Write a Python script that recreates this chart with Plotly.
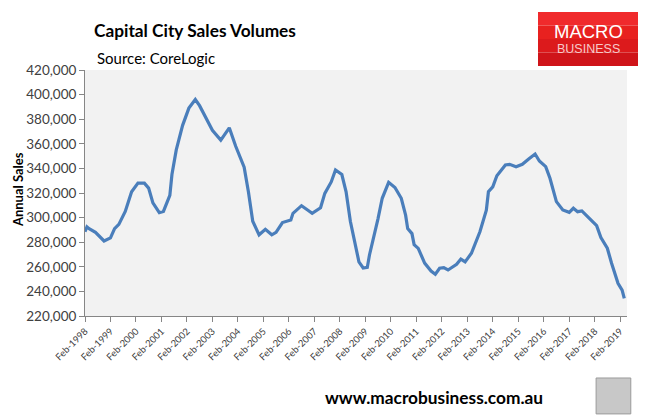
import plotly.graph_objects as go

# Capital city annual sales volumes (CoreLogic)
dates = [
    "1998-02", "1998-03", "1998-04", "1998-07", "1998-11", "1999-02", "1999-04",
    "1999-06", "1999-09", "1999-12", "2000-03", "2000-06", "2000-08", "2000-10",
    "2001-01", "2001-03", "2001-06", "2001-07", "2001-09", "2001-12", "2002-03",
    "2002-06", "2002-08", "2002-11", "2003-02", "2003-06", "2003-08", "2003-10",
    "2004-01", "2004-05", "2004-07", "2004-09", "2004-12", "2005-03", "2005-06",
    "2005-08", "2005-11", "2006-03", "2006-04", "2006-08", "2006-11", "2007-01",
    "2007-05", "2007-07", "2007-10", "2007-12", "2008-03", "2008-05", "2008-07",
    "2008-09", "2008-11", "2009-01", "2009-03", "2009-04", "2009-06", "2009-08",
    "2009-10", "2010-01", "2010-04", "2010-07", "2010-09", "2010-10", "2010-12",
    "2011-01", "2011-03", "2011-06", "2011-09", "2011-11", "2012-01", "2012-03",
    "2012-05", "2012-09", "2012-11", "2013-01", "2013-04", "2013-06", "2013-08",
    "2013-11", "2013-12", "2014-02", "2014-04", "2014-08", "2014-10", "2015-01",
    "2015-04", "2015-07", "2015-10", "2015-12", "2016-03", "2016-05", "2016-08",
    "2016-11", "2017-02", "2017-04", "2017-06", "2017-08", "2017-12", "2018-03",
    "2018-05", "2018-08", "2018-10", "2019-01", "2019-03", "2019-04",
]
sales = [
    288500, 292500, 291000, 288000, 281000, 283500, 291000,
    294500, 305000, 321000, 328000, 328000, 324000, 312000,
    304000, 305000, 318000, 335000, 355000, 375000, 389000,
    396000, 391000, 381000, 371000, 363000, 368000, 373000,
    358000, 341000, 321000, 297000, 286000, 290500, 286000,
    288000, 296000, 298000, 303500, 309700, 306000, 303500,
    308000, 319700, 329000, 338700, 335000, 321000, 297000,
    280000, 264000, 259000, 259500, 269600, 283000, 299000,
    315700, 328700, 324500, 315700, 302000, 291000, 287000,
    278000, 275000, 263000, 256600, 254000, 258800, 259300,
    257400, 262000, 266300, 264000, 271000, 280400, 288500,
    306000, 321000, 325000, 334000, 342800, 343300, 341400,
    343300, 347600, 351700, 346000, 341400, 332000, 313000,
    306200, 304300, 307600, 304800, 305400, 298000, 293400,
    283700, 275100, 262900, 246600, 241100, 234400,
]

FONT = "Lato"
TXT = "#404040"

fig = go.Figure()
fig.add_trace(go.Scatter(
    x=dates, y=sales, mode="lines",
    line=dict(color="#4a7ebb", width=3.2),
    hoverinfo="skip",
))

fig.update_layout(
    width=656, height=417,
    margin=dict(l=85, r=29, t=70, b=101),
    paper_bgcolor="white",
    plot_bgcolor="#f2f2f2",
    showlegend=False,
    font=dict(family=FONT, color=TXT),
)

fig.update_xaxes(
    type="date",
    range=["1998-02-01", "2019-05-10"],
    tick0="1998-02-01", dtick="M12", tickformat="%b-%Y",
    tickangle=-45, tickfont=dict(size=9.5, color=TXT),
    showgrid=False, zeroline=False,
    showline=True, linecolor="#868686", linewidth=1,
    ticks="outside", ticklen=5, tickcolor="#868686",
)
fig.update_yaxes(
    range=[220000, 420000], dtick=20000,
    tickformat=",d", tickfont=dict(size=13.5, color=TXT),
    showgrid=False, zeroline=False,
    showline=True, linecolor="#868686", linewidth=1,
    ticks="outside", ticklen=5, tickcolor="#868686",
)

# logo block, slight top-to-bottom shading
logo_bands = ["#f02a2c", "#e8211f", "#dc1a1c", "#cf1419"]
y_lo, y_hi = 1.0163, 1.2358
step = (y_hi - y_lo) / len(logo_bands)
for i, c in enumerate(logo_bands):
    fig.add_shape(type="rect", xref="paper", yref="paper",
                  x0=0.8358, x1=1.0203,
                  y0=y_hi - (i + 1) * step, y1=y_hi - i * step,
                  fillcolor=c, line=dict(width=0), layer="above")

notes = [
    dict(text="<b>Capital City Sales Volumes</b>", x=0.0129, y=1.1626,
         xanchor="left", font=dict(size=17.3, color="black")),
    dict(text="Source: CoreLogic", x=0.0185, y=1.0488,
         xanchor="left", font=dict(size=15, color="black")),
    dict(text="MACRO", x=0.929, y=1.1545, xanchor="center",
         font=dict(size=18.5, color="white", family="Liberation Sans")),
    dict(text="BUSINESS", x=0.929, y=1.0855, xanchor="center",
         font=dict(size=12.5, color="#f6c9c9", family="Liberation Sans")),
    dict(text="<b>Annual Sales</b>", x=-0.1236, y=0.512, textangle=-90,
         xanchor="center", font=dict(size=13, color="black")),
    dict(text="<b>www.macrobusiness.com.au</b>", x=0.644, y=-0.333,
         xanchor="center", font=dict(size=17.3, color="black")),
]
for n in notes:
    fig.add_annotation(xref="paper", yref="paper", showarrow=False,
                       yanchor="middle", **n)

# small wolf badge bottom right
fig.add_shape(type="rect", xref="paper", yref="paper",
              x0=0.943, x1=1.007, y0=-0.398, y1=-0.252,
              fillcolor="#c8c8c8", line=dict(color="#9a9a9a", width=1))

# page has a default 8px body margin; drop it so the figure sits at 0,0
fig.write_html("out.html", config={"displayModeBar": False},
               post_script="document.body.style.margin='0px';")
